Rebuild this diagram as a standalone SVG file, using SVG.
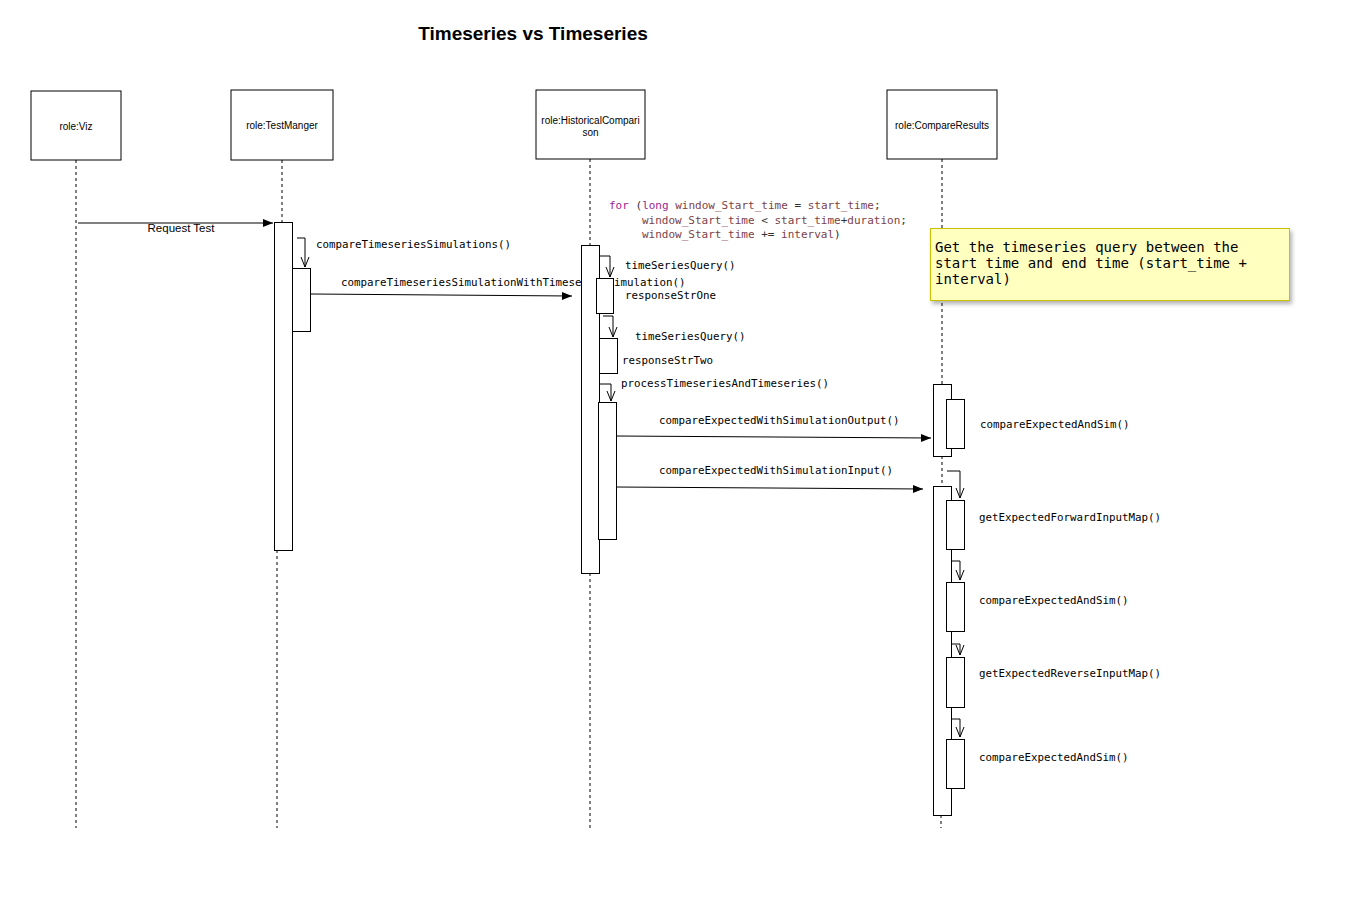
<svg xmlns="http://www.w3.org/2000/svg" width="1362" height="904" viewBox="0 0 1362 904">
<style>
.head{fill:#fff;stroke:#000;stroke-width:1}
.ht{font-family:"Liberation Sans",Arial,sans-serif;font-size:10px;fill:#000;text-anchor:middle}
.life{stroke:#000;stroke-width:1;stroke-dasharray:3,3;fill:none}
.act{fill:#fff;stroke:#000;stroke-width:1}
.msg{stroke:#000;stroke-width:1;fill:none;marker-end:url(#filled)}
.self{stroke:#000;stroke-width:1;fill:none;marker-end:url(#open)}
.lbl{font-family:"DejaVu Sans Mono","Liberation Mono",monospace;font-size:10.8px;fill:#000}
.code{font-family:"DejaVu Sans Mono","Liberation Mono",monospace;font-size:11px;fill:#333}
.kw{fill:#9b2393}
.var{fill:#7b3f4a}
.note{fill:#ffffc0;stroke:#c8c000;stroke-width:1}
.nt{font-family:"DejaVu Sans Mono","Liberation Mono",monospace;font-size:14px;fill:#000}
</style>
<defs>
<marker id="filled" markerUnits="userSpaceOnUse" markerWidth="10" markerHeight="8" refX="10" refY="4" orient="auto" overflow="visible">
<path d="M0,0 L10,4 L0,8 z" fill="#000"/>
</marker>
<marker id="open" markerUnits="userSpaceOnUse" markerWidth="11" markerHeight="9" refX="10" refY="4" orient="auto" overflow="visible">
<path d="M0,0 L10,4 L0,8" fill="none" stroke="#000" stroke-width="1"/>
</marker>
<filter id="shadow" x="-5%" y="-10%" width="115%" height="130%">
<feDropShadow dx="2" dy="3" stdDeviation="2" flood-color="#000" flood-opacity="0.3"/>
</filter>
</defs>
<rect width="1362" height="904" fill="#fff"/>
<text x="533" y="40" text-anchor="middle" font-family="'Liberation Sans',Arial,sans-serif" font-size="19" font-weight="bold">Timeseries vs Timeseries</text>

<g id="lifelines">
<path class="life" d="M76,160 V828"/>
<path class="life" d="M282,160 V222"/>
<path class="life" d="M277,550 V828"/>
<path class="life" d="M590,159 V245"/>
<path class="life" d="M590,573 V828"/>
<path class="life" d="M942,159 V384"/>
<path class="life" d="M942,456 V486"/>
<path class="life" d="M941,815 V828"/>
</g>

<g id="node-viz">
<rect class="head" x="31" y="91" width="90" height="69"/>
<text class="ht" x="76" y="130">role:Viz</text>
</g>
<g id="node-testmanger">
<rect class="head" x="231" y="90" width="102" height="70"/>
<text class="ht" x="282" y="129">role:TestManger</text>
</g>
<g id="node-historicalcomparison">
<rect class="head" x="536" y="90" width="109" height="69"/>
<text class="ht" x="590.5" y="124">role:HistoricalCompari</text>
<text class="ht" x="590.5" y="136">son</text>
</g>
<g id="node-compareresults">
<rect class="head" x="887" y="90" width="110" height="69"/>
<text class="ht" x="942" y="129">role:CompareResults</text>
</g>

<g id="loop-code">
<text class="code" x="609" y="209"><tspan class="kw">for</tspan> (<tspan class="kw">long</tspan> <tspan class="var">window_Start_time</tspan> = <tspan class="var">start_time</tspan>;</text>
<text class="code" x="642" y="224"><tspan class="var">window_Start_time</tspan> &lt; <tspan class="var">start_time</tspan>+<tspan class="var">duration</tspan>;</text>
<text class="code" x="642" y="238"><tspan class="var">window_Start_time</tspan> += <tspan class="var">interval</tspan>)</text>
</g>

<g id="connectors">
<path class="msg" d="M78,223 H273"/>
<text x="181" y="232" text-anchor="middle" font-family="'Liberation Sans',Arial,sans-serif" font-size="11.5">Request Test</text>

<path class="self" d="M297,238 H305 V267"/>
<text class="lbl" x="316" y="248">compareTimeseriesSimulations()</text>

<path class="msg" d="M311,294 L572,296"/>
<text class="lbl" x="341" y="286">compareTimeseriesSimulationWithTimeseriesSimulation()</text>

<path class="self" d="M599,256 H610 V277"/>
<text class="lbl" x="625" y="269">timeSeriesQuery()</text>
<text class="lbl" x="625" y="299">responseStrOne</text>

<path class="self" d="M603,316 H613 V337"/>
<text class="lbl" x="635" y="340">timeSeriesQuery()</text>
<text class="lbl" x="622" y="364">responseStrTwo</text>

<path class="self" d="M599,384 H611 V401"/>
<text class="lbl" x="621" y="387">processTimeseriesAndTimeseries()</text>

<path class="msg" d="M616,436 L931,438"/>
<text class="lbl" x="659" y="424">compareExpectedWithSimulationOutput()</text>

<path class="msg" d="M616,487 L923,489"/>
<text class="lbl" x="659" y="474">compareExpectedWithSimulationInput()</text>

<text class="lbl" x="980" y="428">compareExpectedAndSim()</text>

<path class="self" d="M947,471 H960 V498"/>
<text class="lbl" x="979" y="521">getExpectedForwardInputMap()</text>

<path class="self" d="M952,561 H960 V580"/>
<text class="lbl" x="979" y="604">compareExpectedAndSim()</text>

<path class="self" d="M946,644 H960 V655"/>
<text class="lbl" x="979" y="677">getExpectedReverseInputMap()</text>

<path class="self" d="M952,719 H960 V737"/>
<text class="lbl" x="979" y="761">compareExpectedAndSim()</text>
</g>

<g id="activations">
<rect class="act" x="274.5" y="222.5" width="18" height="328"/>
<rect class="act" x="292.5" y="268.5" width="18" height="63"/>
<rect class="act" x="581.5" y="245.5" width="18" height="328"/>
<rect class="act" x="596.5" y="278.5" width="17" height="35"/>
<rect class="act" x="599.5" y="338.5" width="18" height="35"/>
<rect class="act" x="598.5" y="402.5" width="18" height="137"/>
<rect class="act" x="933.5" y="384.5" width="18" height="72"/>
<rect class="act" x="946.5" y="399.5" width="18" height="49"/>
<rect class="act" x="933.5" y="486.5" width="18" height="329"/>
<rect class="act" x="946.5" y="500.5" width="18" height="49"/>
<rect class="act" x="946.5" y="582.5" width="18" height="49"/>
<rect class="act" x="946.5" y="657.5" width="18" height="50"/>
<rect class="act" x="946.5" y="739.5" width="18" height="49"/>
</g>

<g id="note">
<rect class="note" x="930.5" y="228.5" width="359" height="72" filter="url(#shadow)"/>
<text class="nt" x="935" y="252">Get the timeseries query between the</text>
<text class="nt" x="935" y="268">start time and end time (start_time +</text>
<text class="nt" x="935" y="284">interval)</text>
</g>
</svg>
